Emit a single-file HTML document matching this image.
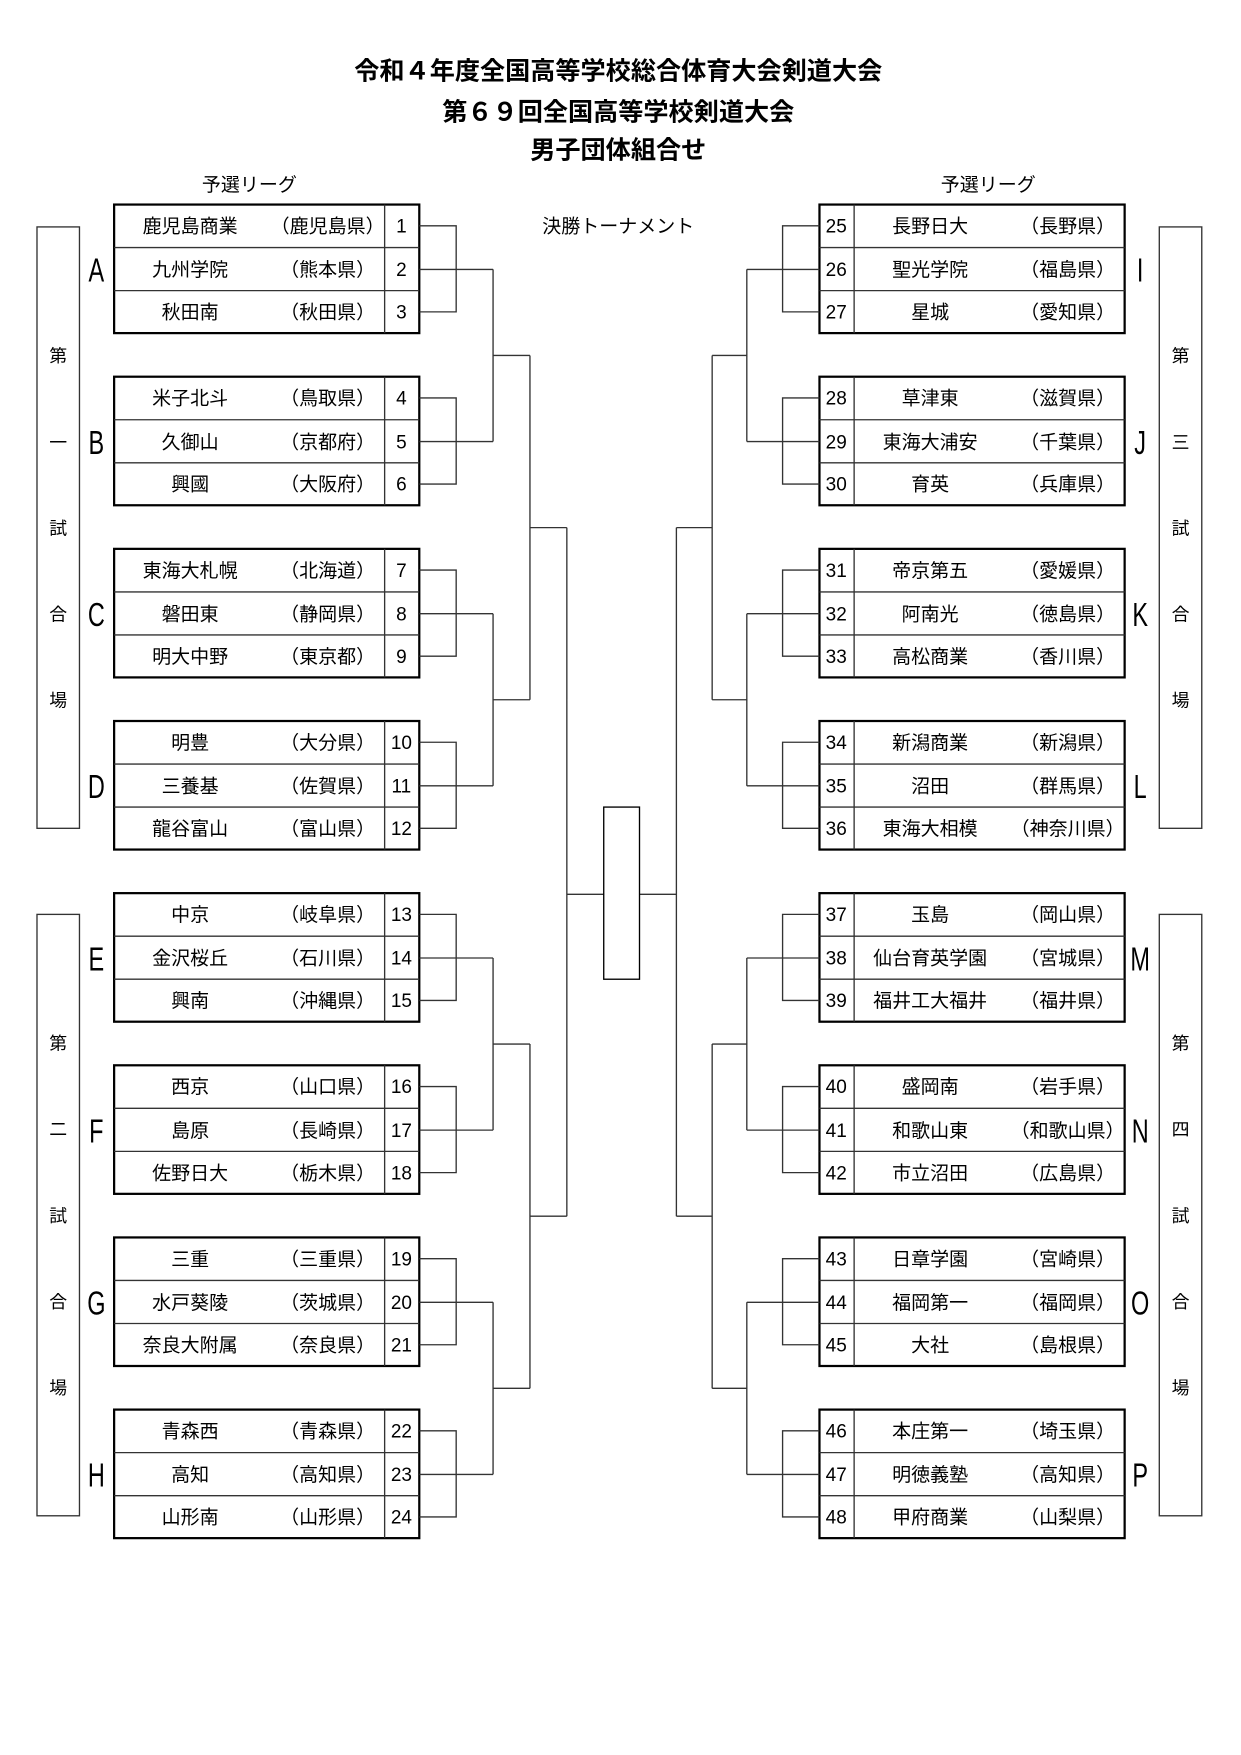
<!DOCTYPE html>
<html><head><meta charset="utf-8"><style>
html,body{margin:0;padding:0;background:#fff}
svg{display:block}
text{font-family:"Liberation Sans","Noto Sans CJK JP",sans-serif;fill:#000}
.t{font-size:22.5px;font-weight:bold;text-anchor:middle}
.n{font-size:17px;text-anchor:middle}
.v{font-size:16px;text-anchor:middle}
</style></head><body>
<svg width="1241" height="1755" viewBox="0 0 1110 1570" xmlns="http://www.w3.org/2000/svg">
<text class="t" x="553" y="71">令和４年度全国高等学校総合体育大会剣道大会</text>
<text class="t" x="553" y="108">第６９回全国高等学校剣道大会</text>
<text class="t" x="553" y="142">男子団体組合せ</text>
<text class="n" x="223" y="171">予選リーグ</text>
<text class="n" x="884" y="171">予選リーグ</text>
<text class="n" x="553" y="208">決勝トーナメント</text>

<g fill="none" stroke="#000" stroke-width="2">
<rect x="102" y="183" width="273" height="115"/><rect x="102" y="337" width="273" height="115"/>
<rect x="102" y="491" width="273" height="115"/><rect x="102" y="645" width="273" height="115"/>
<rect x="102" y="799" width="273" height="115"/><rect x="102" y="953" width="273" height="115"/>
<rect x="102" y="1107" width="273" height="115"/><rect x="102" y="1261" width="273" height="115"/>
<rect x="733" y="183" width="273" height="115"/><rect x="733" y="337" width="273" height="115"/>
<rect x="733" y="491" width="273" height="115"/><rect x="733" y="645" width="273" height="115"/>
<rect x="733" y="799" width="273" height="115"/><rect x="733" y="953" width="273" height="115"/>
<rect x="733" y="1107" width="273" height="115"/><rect x="733" y="1261" width="273" height="115"/>
</g>
<g fill="none" stroke="#333" stroke-width="1.2">
<path d="M102 221.5H375M102 260H375M344 183V298 M102 375.5H375M102 414H375M344 337V452 M102 529.5H375M102 568H375M344 491V606 M102 683.5H375M102 722H375M344 645V760 M102 837.5H375M102 876H375M344 799V914 M102 991.5H375M102 1030H375M344 953V1068 M102 1145.5H375M102 1184H375M344 1107V1222 M102 1299.5H375M102 1338H375M344 1261V1376"/>
<path d="M733 221.5H1006M733 260H1006M764 183V298 M733 375.5H1006M733 414H1006M764 337V452 M733 529.5H1006M733 568H1006M764 491V606 M733 683.5H1006M733 722H1006M764 645V760 M733 837.5H1006M733 876H1006M764 799V914 M733 991.5H1006M733 1030H1006M764 953V1068 M733 1145.5H1006M733 1184H1006M764 1107V1222 M733 1299.5H1006M733 1338H1006M764 1261V1376"/>
<rect x="33" y="203" width="38" height="538"/><rect x="33" y="818" width="38" height="538"/>
<rect x="1037" y="203" width="38" height="538"/><rect x="1037" y="818" width="38" height="538"/>
<path d="M375 202H408V279H375M375 241H441 M375 356H408V433H375M375 395H441 M375 510H408V587H375M375 549H441 M375 664H408V741H375M375 703H441 M375 818H408V895H375M375 857H441 M375 972H408V1049H375M375 1011H441 M375 1126H408V1203H375M375 1165H441 M375 1280H408V1357H375M375 1319H441"/>
<path d="M441 241V395M441 318H474 M441 549V703M441 626H474 M441 857V1011M441 934H474 M441 1165V1319M441 1242H474 M474 318V626M474 472H507 M474 934V1242M474 1088H507 M507 472V1088M507 800H540"/>
<path d="M733 202H700V279H733M733 241H668 M733 356H700V433H733M733 395H668 M733 510H700V587H733M733 549H668 M733 664H700V741H733M733 703H668 M733 818H700V895H733M733 857H668 M733 972H700V1049H733M733 1011H668 M733 1126H700V1203H733M733 1165H668 M733 1280H700V1357H733M733 1319H668"/>
<path d="M668 241V395M668 318H637 M668 549V703M668 626H637 M668 857V1011M668 934H637 M668 1165V1319M668 1242H637 M637 318V626M637 472H605 M637 934V1242M637 1088H605 M605 472V1088M605 800H572"/>
<rect x="540" y="722" width="32" height="154" stroke="#000"/>
</g>

<g class="v">
<text x="52" y="324">第</text><text x="52" y="401">一</text><text x="52" y="478">試</text><text x="52" y="555">合</text><text x="52" y="632">場</text>
<text x="52" y="939">第</text><text x="52" y="1016">二</text><text x="52" y="1093">試</text><text x="52" y="1170">合</text><text x="52" y="1247">場</text>
<text x="1056" y="324">第</text><text x="1056" y="401">三</text><text x="1056" y="478">試</text><text x="1056" y="555">合</text><text x="1056" y="632">場</text>
<text x="1056" y="939">第</text><text x="1056" y="1016">四</text><text x="1056" y="1093">試</text><text x="1056" y="1170">合</text><text x="1056" y="1247">場</text>
</g>
<g font-size="30" text-anchor="middle" transform="scale(0.7,1)">
<text x="123" y="252">A</text><text x="123" y="406">B</text><text x="123" y="560">C</text><text x="123" y="714">D</text>
<text x="123" y="868">E</text><text x="123" y="1022">F</text><text x="123" y="1176">G</text><text x="123" y="1330">H</text>
<text x="1457" y="252">I</text><text x="1457" y="406">J</text><text x="1457" y="560">K</text><text x="1457" y="714">L</text>
<text x="1457" y="868">M</text><text x="1457" y="1022">N</text><text x="1457" y="1176">O</text><text x="1457" y="1330">P</text>
</g>

<g class="n">
<text x="170" y="208">鹿児島商業</text><text x="293" y="208">（鹿児島県）</text><text x="359" y="208">1</text>
<text x="170" y="247">九州学院</text><text x="293" y="247">（熊本県）</text><text x="359" y="247">2</text>
<text x="170" y="285">秋田南</text><text x="293" y="285">（秋田県）</text><text x="359" y="285">3</text>
<text x="170" y="362">米子北斗</text><text x="293" y="362">（鳥取県）</text><text x="359" y="362">4</text>
<text x="170" y="401">久御山</text><text x="293" y="401">（京都府）</text><text x="359" y="401">5</text>
<text x="170" y="439">興國</text><text x="293" y="439">（大阪府）</text><text x="359" y="439">6</text>
<text x="170" y="516">東海大札幌</text><text x="293" y="516">（北海道）</text><text x="359" y="516">7</text>
<text x="170" y="555">磐田東</text><text x="293" y="555">（静岡県）</text><text x="359" y="555">8</text>
<text x="170" y="593">明大中野</text><text x="293" y="593">（東京都）</text><text x="359" y="593">9</text>
<text x="170" y="670">明豊</text><text x="293" y="670">（大分県）</text><text x="359" y="670">10</text>
<text x="170" y="709">三養基</text><text x="293" y="709">（佐賀県）</text><text x="359" y="709">11</text>
<text x="170" y="747">龍谷富山</text><text x="293" y="747">（富山県）</text><text x="359" y="747">12</text>
<text x="170" y="824">中京</text><text x="293" y="824">（岐阜県）</text><text x="359" y="824">13</text>
<text x="170" y="863">金沢桜丘</text><text x="293" y="863">（石川県）</text><text x="359" y="863">14</text>
<text x="170" y="901">興南</text><text x="293" y="901">（沖縄県）</text><text x="359" y="901">15</text>
<text x="170" y="978">西京</text><text x="293" y="978">（山口県）</text><text x="359" y="978">16</text>
<text x="170" y="1017">島原</text><text x="293" y="1017">（長崎県）</text><text x="359" y="1017">17</text>
<text x="170" y="1055">佐野日大</text><text x="293" y="1055">（栃木県）</text><text x="359" y="1055">18</text>
<text x="170" y="1132">三重</text><text x="293" y="1132">（三重県）</text><text x="359" y="1132">19</text>
<text x="170" y="1171">水戸葵陵</text><text x="293" y="1171">（茨城県）</text><text x="359" y="1171">20</text>
<text x="170" y="1209">奈良大附属</text><text x="293" y="1209">（奈良県）</text><text x="359" y="1209">21</text>
<text x="170" y="1286">青森西</text><text x="293" y="1286">（青森県）</text><text x="359" y="1286">22</text>
<text x="170" y="1325">高知</text><text x="293" y="1325">（高知県）</text><text x="359" y="1325">23</text>
<text x="170" y="1363">山形南</text><text x="293" y="1363">（山形県）</text><text x="359" y="1363">24</text>

<text x="748" y="208">25</text><text x="832" y="208">長野日大</text><text x="955" y="208">（長野県）</text>
<text x="748" y="247">26</text><text x="832" y="247">聖光学院</text><text x="955" y="247">（福島県）</text>
<text x="748" y="285">27</text><text x="832" y="285">星城</text><text x="955" y="285">（愛知県）</text>
<text x="748" y="362">28</text><text x="832" y="362">草津東</text><text x="955" y="362">（滋賀県）</text>
<text x="748" y="401">29</text><text x="832" y="401">東海大浦安</text><text x="955" y="401">（千葉県）</text>
<text x="748" y="439">30</text><text x="832" y="439">育英</text><text x="955" y="439">（兵庫県）</text>
<text x="748" y="516">31</text><text x="832" y="516">帝京第五</text><text x="955" y="516">（愛媛県）</text>
<text x="748" y="555">32</text><text x="832" y="555">阿南光</text><text x="955" y="555">（徳島県）</text>
<text x="748" y="593">33</text><text x="832" y="593">高松商業</text><text x="955" y="593">（香川県）</text>
<text x="748" y="670">34</text><text x="832" y="670">新潟商業</text><text x="955" y="670">（新潟県）</text>
<text x="748" y="709">35</text><text x="832" y="709">沼田</text><text x="955" y="709">（群馬県）</text>
<text x="748" y="747">36</text><text x="832" y="747">東海大相模</text><text x="955" y="747">（神奈川県）</text>
<text x="748" y="824">37</text><text x="832" y="824">玉島</text><text x="955" y="824">（岡山県）</text>
<text x="748" y="863">38</text><text x="832" y="863">仙台育英学園</text><text x="955" y="863">（宮城県）</text>
<text x="748" y="901">39</text><text x="832" y="901">福井工大福井</text><text x="955" y="901">（福井県）</text>
<text x="748" y="978">40</text><text x="832" y="978">盛岡南</text><text x="955" y="978">（岩手県）</text>
<text x="748" y="1017">41</text><text x="832" y="1017">和歌山東</text><text x="955" y="1017">（和歌山県）</text>
<text x="748" y="1055">42</text><text x="832" y="1055">市立沼田</text><text x="955" y="1055">（広島県）</text>
<text x="748" y="1132">43</text><text x="832" y="1132">日章学園</text><text x="955" y="1132">（宮崎県）</text>
<text x="748" y="1171">44</text><text x="832" y="1171">福岡第一</text><text x="955" y="1171">（福岡県）</text>
<text x="748" y="1209">45</text><text x="832" y="1209">大社</text><text x="955" y="1209">（島根県）</text>
<text x="748" y="1286">46</text><text x="832" y="1286">本庄第一</text><text x="955" y="1286">（埼玉県）</text>
<text x="748" y="1325">47</text><text x="832" y="1325">明徳義塾</text><text x="955" y="1325">（高知県）</text>
<text x="748" y="1363">48</text><text x="832" y="1363">甲府商業</text><text x="955" y="1363">（山梨県）</text>
</g>
</svg>
</body></html>
